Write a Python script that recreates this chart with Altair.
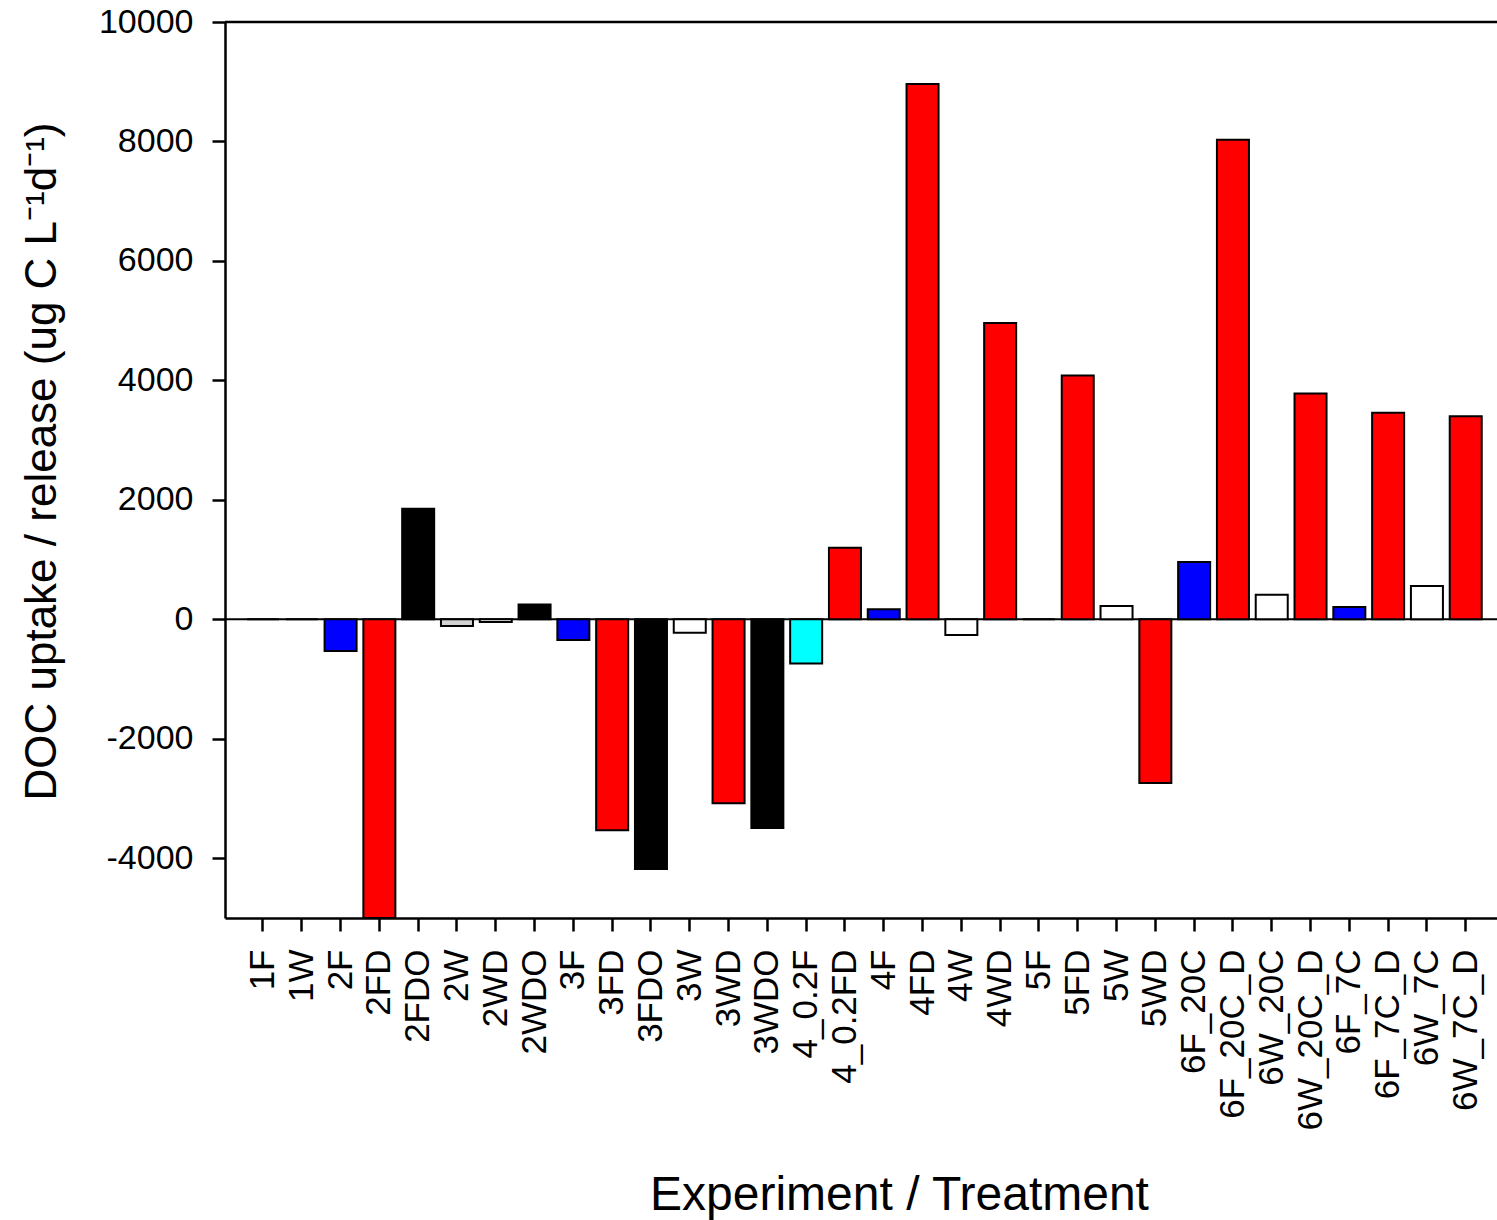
import altair as alt
import pandas as pd

# Experiment / treatment codes along the x axis
treatments = [
    "1F", "1W", "2F", "2FD", "2FDO", "2W", "2WD", "2WDO",
    "3F", "3FD", "3FDO", "3W", "3WD", "3WDO",
    "4_0.2F", "4_0.2FD", "4F", "4FD", "4W", "4WD",
    "5F", "5FD", "5W", "5WD",
    "6F_20C", "6F_20C_D", "6W_20C", "6W_20C_D",
    "6F_7C", "6F_7C_D", "6W_7C", "6W_7C_D",
]

# DOC uptake / release, ug C L-1 d-1
doc_rate = [
    0, 0, -530, -5000, 1850, -110, -45, 250,
    -345, -3530, -4180, -223, -3080, -3495,
    -741, 1200, 167, 8960, -262, 4960,
    0, 4080, 223, -2742,
    960, 8030, 413, 3780,
    206, 3460, 557, 3400,
]

# Bar fill for each treatment
fills = [
    "#ffffff", "#ffffff", "#0000ff", "#ff0000", "#000000", "#d3d3d3", "#ffffff", "#000000",
    "#0000ff", "#ff0000", "#000000", "#ffffff", "#ff0000", "#000000",
    "#00ffff", "#ff0000", "#0000ff", "#ff0000", "#ffffff", "#ff0000",
    "#ffffff", "#ff0000", "#ffffff", "#ff0000",
    "#0000ff", "#ff0000", "#ffffff", "#ff0000",
    "#0000ff", "#ff0000", "#ffffff", "#ff0000",
]

y_ticks = [-4000, -2000, 0, 2000, 4000, 6000, 8000, 10000]

df = pd.DataFrame({"treatment": treatments, "doc": doc_rate, "fill": fills})

FONT = "Liberation Sans"

x_enc = alt.X(
    "treatment:N",
    sort=treatments,
    scale=alt.Scale(paddingInner=0.175, paddingOuter=0.48, align=0.59),
    axis=alt.Axis(
        title="Experiment / Treatment",
        labelAngle=270,
        labelAlign="right",
        labelBaseline="middle",
        labelFontSize=35,
        labelFont=FONT,
        labelColor="#000000",
        labelPadding=18,
        labelOverlap=False,
        labelLimit=0,
        tickSize=13,
        tickWidth=2.5,
        tickColor="#000000",
        domainColor="#000000",
        domainWidth=2.5,
        titleFont=FONT,
        titleFontSize=48,
        titleFontWeight="normal",
        titleColor="#000000",
        titleX=674,
        titleY=277,
        titleAlign="center",
        titleBaseline="middle",
    ),
)

y_scale = alt.Scale(domain=[-5000, 10000], nice=False, zero=False)

bars = alt.Chart(df).mark_bar(stroke="#000000", strokeWidth=2, clip=True).encode(
    x=x_enc,
    y=alt.Y(
        "doc:Q",
        scale=y_scale,
        axis=alt.Axis(
            title="DOC uptake / release (ug C L⁻¹d⁻¹)",
            values=y_ticks,
            grid=False,
            labelExpr="datum.value < 0 ? '-' + format(-datum.value, 'd') : format(datum.value, 'd')",
            labelFontSize=34,
            labelFont=FONT,
            labelColor="#000000",
            labelPadding=19,
            tickSize=13,
            tickWidth=2.5,
            tickColor="#000000",
            domainColor="#000000",
            domainWidth=2.5,
            titleFont=FONT,
            titleFontSize=44,
            titleFontWeight="normal",
            titleColor="#000000",
            titleX=-183,
            titleY=439,
            titleAlign="center",
            titleBaseline="middle",
        ),
    ),
    y2=alt.datum(0),
    fill=alt.Fill("fill:N", scale=None),
)

# Zero line and top frame line
zero_line = alt.Chart(pd.DataFrame({"y": [0]})).mark_rule(
    color="#000000", strokeWidth=2
).encode(y=alt.Y("y:Q", scale=y_scale))

top_line = alt.Chart(pd.DataFrame({"y": [10000]})).mark_rule(
    color="#000000", strokeWidth=2.5
).encode(y=alt.Y("y:Q", scale=y_scale))

chart = (
    alt.layer(zero_line, bars, top_line)
    .properties(
        width=1272,
        height=896,
        autosize=alt.AutoSizeParams(type="none"),
        padding={"left": 225, "top": 22, "right": 0, "bottom": 302},
        background="#ffffff",
    )
    .configure_view(stroke=None)
)

chart.save("out.html", embed_options={"renderer": "svg", "actions": False})
